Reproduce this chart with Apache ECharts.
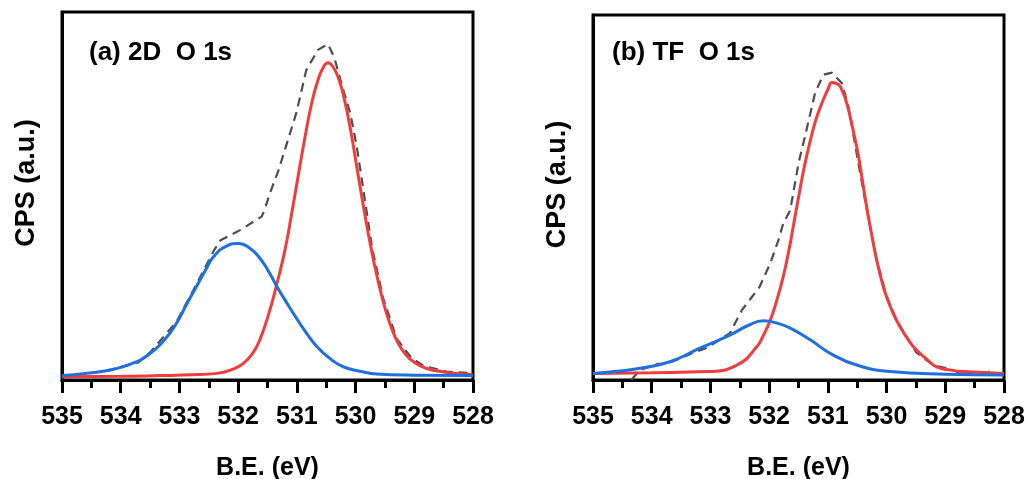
<!DOCTYPE html>
<html>
<head>
<meta charset="utf-8">
<script src="https://cdn.jsdelivr.net/npm/echarts@6/dist/echarts.min.js"></script>
<style>
  html, body { margin: 0; padding: 0; background: #fff; }
  #main { width: 1029px; height: 479px; }
</style>
</head>
<body>
<div id="main"></div>
<script>
// binding energies (eV) and intensities (a.u., 0-100)

// (a) 2D
var be2DRed  = [535.0, 534.0, 533.33, 532.8, 532.36, 532.1, 531.91, 531.75, 531.63, 531.46, 531.35, 531.2, 531.08, 530.95, 530.85, 530.75, 530.65, 530.55, 530.47, 530.38, 530.28, 530.18, 530.08, 529.98, 529.88, 529.78, 529.68, 529.58, 529.48, 529.38, 529.28, 529.15, 529.0, 528.8, 528.5, 528.0];
var cps2DRed = [0.9, 1.0, 1.2, 1.4, 1.8, 2.9, 4.5, 7.3, 10.9, 19, 25.5, 35.5, 46, 58, 67, 75, 81, 85, 86.2, 85, 81.5, 75.5, 67.5, 58, 48.5, 39.5, 31.5, 24.5, 18.5, 13.8, 10.2, 7.0, 4.8, 3.2, 2.2, 1.4];

var be2DBlue  = [535.0, 534.6, 534.18, 533.8, 533.5, 533.25, 533.05, 532.88, 532.71, 532.55, 532.42, 532.2, 531.99, 531.8, 531.63, 531.48, 531.34, 531.2, 531.06, 530.86, 530.66, 530.45, 530.21, 529.9, 529.64, 529.0, 528.0];
var cps2DBlue = [1.2, 1.8, 2.7, 4.5, 7.2, 11, 15.4, 20.5, 25.4, 30, 33.5, 36.4, 37.1, 35.8, 33.1, 29.5, 25.4, 21.7, 18.1, 13.3, 9.1, 6.0, 3.6, 2.3, 1.6, 1.3, 1.2];

var be2DEnv  = [535.0, 534.6, 534.2, 533.7, 533.5, 533.05, 532.71, 532.42, 532.3, 531.96, 531.6, 531.55, 531.46, 531.31, 531.17, 531.01, 530.84, 530.64, 530.47, 530.36, 530.21, 530.09, 529.98, 529.87, 529.72, 529.53, 529.3, 529.05, 528.84, 528.45, 528.08, 528.0];
var cps2DEnv = [1.1, 1.6, 2.7, 4.8, 7.5, 15.8, 26, 35, 38, 40.8, 44.4, 46.2, 50.7, 57.1, 64.3, 72.5, 84.2, 89.7, 91.3, 87.5, 78.8, 72.5, 63.4, 52, 36, 22.2, 11.2, 6.0, 3.8, 2.3, 1.9, 1.8];

// (b) TF
var beTFRed  = [535.0, 534.0, 533.06, 532.55, 532.21, 532.1, 531.98, 531.87, 531.76, 531.66, 531.59, 531.5, 531.4, 531.3, 531.2, 531.08, 531.0, 530.93, 530.85, 530.79, 530.7, 530.62, 530.55, 530.48, 530.41, 530.34, 530.25, 530.17, 530.08, 530.0, 529.88, 529.77, 529.63, 529.49, 529.3, 529.15, 528.9, 528.69, 528.0];
var cpsTFRed = [1.8, 2.0, 2.3, 4.1, 9.1, 12.2, 16.4, 21.8, 28.3, 35.8, 42, 50, 58.5, 65.5, 71.5, 76.7, 79.6, 81.5, 81.2, 80.4, 77, 72.1, 67, 61.5, 54.5, 47.5, 39.5, 33, 27, 22.8, 18, 14.6, 11, 8.2, 5.5, 3.6, 2.7, 2.3, 1.8];

var beTFBlue  = [535.0, 534.6, 534.2, 533.69, 533.18, 532.67, 532.35, 532.1, 531.85, 531.64, 531.3, 530.96, 530.51, 529.94, 529.0, 528.0];
var cpsTFBlue = [1.8, 2.4, 3.2, 5.0, 8.7, 12.3, 15, 16.2, 15.5, 14.2, 11, 7.3, 4.1, 2.3, 1.6, 1.4];

var beTFEnv  = [534.35, 534.2, 533.9, 533.75, 533.5, 533.3, 533.06, 532.67, 532.47, 532.16, 531.98, 531.84, 531.76, 531.64, 531.56, 531.5, 531.39, 531.22, 531.08, 530.93, 530.76, 530.65, 530.48, 530.34, 530.17, 530.0, 529.83, 529.49, 529.2, 528.97, 528.75, 528.52, 528.35, 528.18];
var cpsTFEnv = [0, 2.7, 4.4, 4.4, 6.0, 7.4, 8.8, 12.8, 19, 25.6, 32, 38.4, 42.9, 46.6, 53.9, 59.4, 66.7, 78.5, 83.6, 84.2, 81.3, 74.9, 59.4, 47, 33, 23, 16.4, 7.5, 4.0, 3.2, 2.0, 1.4, 1.6, 2.7];

var xTicks = [535, 534, 533, 532, 531, 530, 529, 528];
var panelTitles = ['(a) 2D  O 1s', '(b) TF  O 1s'];

var font = '"Liberation Sans", Arial, Helvetica, sans-serif';
var red = '#f03c3c', blue = '#1f6fde', gray = '#4d4d4d';

function zip(xs, ys) {
    var out = [];
    for (var i = 0; i < xs.length; i++) out.push([xs[i], ys[i]]);
    return out;
}

function xAxisOf(idx) {
    return {
        gridIndex: idx,
        type: 'value',
        inverse: true,
        min: xTicks[xTicks.length - 1],
        max: xTicks[0],
        interval: 1,
        axisLine: { show: true, onZero: false, lineStyle: { color: '#000', width: 3 } },
        axisTick: { show: true, inside: false, length: 13, lineStyle: { color: '#000', width: 3 } },
        minorTick: { show: true, splitNumber: 2, length: 8, lineStyle: { color: '#000', width: 3 } },
        splitLine: { show: false },
        axisLabel: { color: '#000', fontSize: 25, fontWeight: 'bold', fontFamily: font, margin: 25 },
        name: 'B.E. (eV)',
        nameLocation: 'middle',
        nameGap: 76,
        nameTextStyle: { color: '#000', fontSize: 25, fontWeight: 'bold', fontFamily: font }
    };
}

function yAxisOf(idx) {
    return {
        gridIndex: idx,
        type: 'value',
        min: 0,
        max: 100,
        axisLine: { show: true, lineStyle: { color: '#000', width: 3 } },
        axisTick: { show: false },
        axisLabel: { show: false },
        splitLine: { show: false },
        name: 'CPS (a.u.)',
        nameLocation: 'middle',
        nameGap: 22,
        nameTextStyle: { color: '#000', fontSize: 27, fontWeight: 'bold', fontFamily: font, padding: [0, 0, 0, 26] }
    };
}

function lineOf(idx, data, color, dashed) {
    return {
        type: 'line',
        xAxisIndex: idx,
        yAxisIndex: idx,
        data: data,
        showSymbol: false,
        symbol: 'none',
        smooth: dashed ? false : 0.5,
        lineStyle: dashed
            ? { color: color, width: 2.2, type: [9, 6] }
            : { color: color, width: 3 },
        z: dashed ? 2 : 3
    };
}

var myChart = echarts.init(document.getElementById('main'));

var option = {
    animation: false,
    backgroundColor: '#fff',
    title: [
        { text: panelTitles[0], left: 84, top: 35, textStyle: { color: '#000', fontSize: 26, fontWeight: 'bold', fontFamily: font } },
        { text: panelTitles[1], left: 607, top: 35, textStyle: { color: '#000', fontSize: 26, fontWeight: 'bold', fontFamily: font } }
    ],
    grid: [
        { left: 62, right: 556, top: 12, bottom: 99, show: true, borderColor: '#000', borderWidth: 3, outerBoundsMode: 'none' },
        { left: 593, right: 25, top: 15, bottom: 99, show: true, borderColor: '#000', borderWidth: 3, outerBoundsMode: 'none' }
    ],
    xAxis: [xAxisOf(0), xAxisOf(1)],
    yAxis: [yAxisOf(0), yAxisOf(1)],
    series: [
        lineOf(0, zip(be2DEnv, cps2DEnv), gray, true),
        lineOf(0, zip(be2DRed, cps2DRed), red, false),
        lineOf(0, zip(be2DBlue, cps2DBlue), blue, false),
        lineOf(1, zip(beTFEnv, cpsTFEnv), gray, true),
        lineOf(1, zip(beTFRed, cpsTFRed), red, false),
        lineOf(1, zip(beTFBlue, cpsTFBlue), blue, false)
    ]
};

option && myChart.setOption(option);
</script>
</body>
</html>
